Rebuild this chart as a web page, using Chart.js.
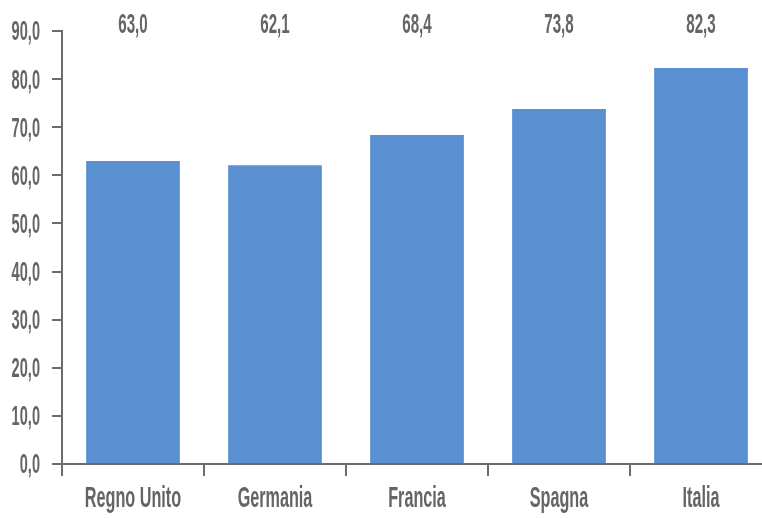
<!DOCTYPE html>
<html>
<head>
<meta charset="utf-8">
<script src="https://cdn.jsdelivr.net/npm/chart.js@4"></script>
<style>
  html, body { margin: 0; padding: 0; background: #fff; overflow: hidden; }
  #wrap { width: 774px; height: 518px; }
</style>
</head>
<body>
<div id="wrap"><canvas id="barChart"></canvas></div>
<script>
const countries = ['Regno Unito', 'Germania', 'Francia', 'Spagna', 'Italia'];
const values = [63.0, 62.1, 68.4, 73.8, 82.3];
const yTicks = [0, 10, 20, 30, 40, 50, 60, 70, 80, 90];

const FAMILY = '"Liberation Sans", Arial, sans-serif';
const SQUEEZE = 0.54;   // the original uses a very narrow face
const TEXT = '#656565';
const AXIS = '#6b6b6b';

const fmt = v => v.toFixed(1).replace('.', ',');

function narrowText(ctx, text, x, y, align, size) {
  ctx.save();
  ctx.font = 'bold ' + size + 'px ' + FAMILY;
  ctx.translate(x, y);
  ctx.scale(SQUEEZE, 1);
  ctx.textAlign = align;
  ctx.fillText(text, 0, 0);
  ctx.restore();
}

// tick labels and the row of values at the top, drawn narrow
const narrowLabels = {
  id: 'narrowLabels',
  afterDraw(chart) {
    const { ctx, chartArea, scales } = chart;
    ctx.save();
    ctx.fillStyle = TEXT;
    ctx.textBaseline = 'middle';
    yTicks.forEach(v => {
      narrowText(ctx, fmt(v), chartArea.left - 22, scales.y.getPixelForValue(v) + 2, 'right', 27);
    });
    countries.forEach((c, i) => {
      narrowText(ctx, c, scales.x.getPixelForValue(i), chartArea.bottom + 35, 'center', 30);
    });
    values.forEach((v, i) => {
      narrowText(ctx, fmt(v), scales.x.getPixelForValue(i), chartArea.top - 6, 'center', 28);
    });
    ctx.restore();
  }
};

const ctx = document.getElementById('barChart').getContext('2d');
new Chart(ctx, {
  type: 'bar',
  data: {
    labels: countries,
    datasets: [{
      data: values,
      backgroundColor: '#5a8fd1',
      borderWidth: 0,
      categoryPercentage: 1,
      barPercentage: 0.66
    }]
  },
  options: {
    responsive: true,
    maintainAspectRatio: false,
    animation: false,
    layout: { padding: { top: 31, right: 2, bottom: 42, left: 52 } },
    plugins: { legend: { display: false }, tooltip: { enabled: false } },
    scales: {
      x: {
        grid: { offset: true, drawOnChartArea: false, tickLength: 12, color: AXIS, lineWidth: 2 },
        border: { color: AXIS, width: 2 },
        ticks: { display: false }
      },
      y: {
        min: 0,
        max: 90,
        grid: { drawOnChartArea: false, tickLength: 10, color: AXIS, lineWidth: 2 },
        border: { color: AXIS, width: 2 },
        ticks: { display: false, stepSize: 10 }
      }
    }
  },
  plugins: [narrowLabels]
});
</script>
</body>
</html>
